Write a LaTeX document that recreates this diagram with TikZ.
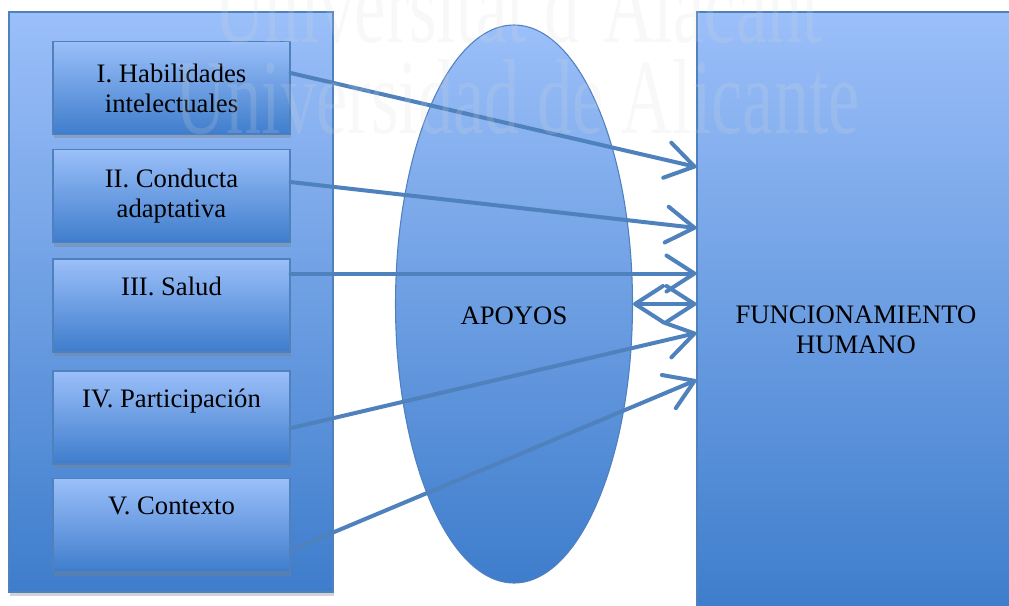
\documentclass[tikz,border=0pt]{standalone}
\usepackage{fontspec}
\setmainfont{Liberation Serif}
\usetikzlibrary{arrows.meta,shapes.geometric,shadows}
\definecolor{lightblue}{RGB}{155,191,249}
\definecolor{darkblue}{RGB}{62,125,204}
\definecolor{edgeblue}{RGB}{79,129,189}

\begin{document}
\begin{tikzpicture}[x=0.75pt,y=-0.75pt,
		grad/.style={draw=edgeblue,line width=0.8pt,top color=lightblue,bottom color=darkblue,inner sep=0pt},
		dim/.style={grad,minimum width=177.75pt,minimum height=69.75pt,align=center,
			font=\fontsize{20}{22.5}\selectfont,drop shadow={opacity=0.35,shadow xshift=1pt,shadow yshift=-3pt}},
		txt/.style={align=center,font=\fontsize{20}{22.5}\selectfont},
		wmark/.style={font=\fontsize{80}{80}\selectfont,text=gray!30,text opacity=0.18,anchor=base},
		flow/.style={draw=edgeblue,line width=3pt,line cap=round,-{Straight Barb[length=21pt,width=27pt,round]}},
		twoway/.style={flow,{Straight Barb[length=21pt,width=27pt,round]}-{Straight Barb[length=21pt,width=27pt,round]}}]
	\useasboundingbox (0,0) rectangle (1009,606);
	\node [grad,minimum width=243pt,minimum height=435pt,
		drop shadow={opacity=0.35,shadow xshift=1pt,shadow yshift=-3pt}] (dims) at (171,302) {};
	\node [dim] (b1) at (171.5,88) {I. Habilidades\\intelectuales};
	\node [dim] (b2) at (171.5,196) {II. Conducta\\adaptativa};
	\node [dim] (b3) at (171.5,305.5) {III. Salud\\\strut};
	\node [dim] (b4) at (171.5,417.5) {IV. Participación\\\strut};
	\node [dim] (b5) at (171.5,525) {V. Contexto\\\strut};
	\node [grad,ellipse,minimum width=177.75pt,minimum height=418.5pt] (apoyos) at (514,304) {};
	\node [txt] (apoyostxt) at (514,316) {APOYOS};
	\node [grad,minimum width=236.25pt,minimum height=448.5pt] (func) at (854.5,311) {};
	\node [txt] (functxt) at (856,330) {FUNCIONAMIENTO\\HUMANO};
	\draw [flow] ([yshift=11.25pt]b1.east) -- ([yshift=108pt]func.west);
	\draw [flow] ([yshift=10.5pt]b2.east) -- ([yshift=62.25pt]func.west);
	\draw [flow] ([yshift=24pt]b3.east) -- ([yshift=24pt]b3.east -| func.west);
	\draw [twoway] (apoyos.east) -- (apoyos.east -| func.west);
	\draw [flow] ([yshift=-8pt]b4.east) -- ([yshift=-16.5pt]func.west);
	\draw [flow] ([yshift=-19pt]b5.east) -- ([yshift=-51.75pt]func.west);
	\node [wmark] (wm1) at (518,43) {\scalebox{0.66}[1]{Universitat d’Alacant}};
	\node [wmark] (wm2) at (518,133) {\scalebox{0.66}[1]{Universidad de Alicante}};
\end{tikzpicture}
\end{document}
